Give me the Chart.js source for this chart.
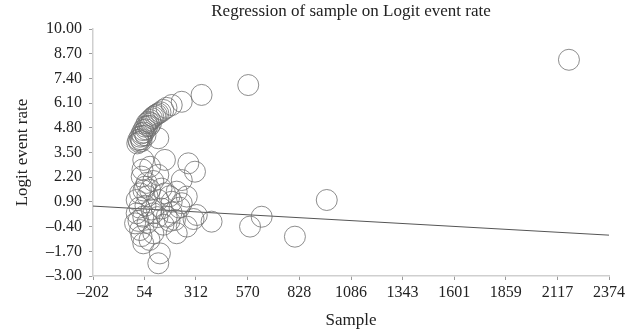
<!DOCTYPE html>
<html>
<head>
<meta charset="utf-8">
<script src="https://cdn.jsdelivr.net/npm/chart.js@4"></script>
<style>
  html, body { margin: 0; padding: 0; background: #fff; }
  #wrap { width: 638px; height: 334px; }
</style>
</head>
<body>
<div id="wrap"><canvas id="myChart" width="638" height="334"></canvas></div>
<script>
// sample size vs logit event rate (one circle per study)
var sampleX = [
  19, 24, 28, 33, 36, 41, 44, 49, 52, 58, 62, 66, 70, 75, 83, 88, 92, 99, 108, 116,
  124, 135, 149, 165, 191, 241, 340, 573, 2174, 124, 60, 80, 40,
  274, 307, 157, 49, 83, 41, 124, 241, 58, 83, 33, 157, 216, 266, 16, 124, 191,
  241, 66, 45, 99, 70, 50, 140, 180,
  16, 49, 99, 166, 207, 316, 390, 582, 640, 806, 965, 33, 99, 216, 49, 132, 124,
  8, 266, 30, 60, 90, 140, 190, 230, 25, 70, 150, 180, 40, 80, 300, 120
];
var logitY = [
  3.98, 4.16, 4.05, 4.33, 4.20, 4.51, 4.38, 4.68, 4.55, 4.86, 4.72, 5.04, 4.90, 5.12, 5.21, 5.05, 5.30, 5.38, 5.45, 5.50,
  5.56, 5.62, 5.74, 5.85, 6.00, 6.17, 6.53, 7.05, 8.38, 4.25, 4.40, 4.90, 4.10,
  2.93, 2.49, 3.11, 3.11, 2.75, 2.23, 2.32, 2.05, 1.70, 1.53, 1.35, 1.35, 1.44, 1.18, 1.00, 1.00, 0.91,
  0.83, 1.90, 2.60, 2.00, 1.20, 1.50, 1.60, 1.20,
  0.30, 0.12, 0.30, 0.12, -0.05, 0.21, -0.14, -0.40, 0.12, -0.93, 1.00, -0.58, -0.75, -0.75, -1.28, -1.81, -2.33,
  -0.23, -0.40, 0.60, 0.70, 0.50, 0.55, 0.35, 0.60, -0.10, -0.20, -0.30, -0.10, -0.90, -1.10, 0.00, 0.10
];
// fitted regression line end points
var lineX = [-202, 2374];
var lineY = [0.68, -0.85];

var xTicks = [-202, 54, 312, 570, 828, 1086, 1343, 1601, 1859, 2117, 2374];
var yTicks = [-3.00, -1.70, -0.40, 0.90, 2.20, 3.50, 4.80, 6.10, 7.40, 8.70, 10.00];

var pts = sampleX.map(function (x, i) { return { x: x, y: logitY[i] }; });
var fit = lineX.map(function (x, i) { return { x: x, y: lineY[i] }; });

function minus(s) { return s.replace('-', '\u2013'); }

// center the title over the plot area instead of the whole canvas
var titleOverPlot = {
  id: 'titleOverPlot',
  beforeDraw: function (chart) {
    var t = chart.titleBlock, a = chart.chartArea;
    if (t && a) {
      t.left = a.left;
      t.right = a.right;
      t.width = a.right - a.left;
    }
  }
};

var serif = "'Liberation Serif', 'DejaVu Serif', serif";
var ctx = document.getElementById('myChart').getContext('2d');

var chart = new Chart(ctx, {
  type: 'scatter',
  data: {
    datasets: [{
      label: 'Studies',
      data: pts,
      pointStyle: 'circle',
      pointRadius: 10.5,
      pointBorderWidth: 0.8,
      pointBorderColor: '#707070',
      pointBackgroundColor: 'rgba(0,0,0,0)',
      showLine: false
    }, {
      label: 'Fit',
      type: 'line',
      data: fit,
      borderColor: '#555',
      borderWidth: 1,
      pointRadius: 0,
      fill: false
    }]
  },
  plugins: [titleOverPlot],
  options: {
    responsive: false,
    animation: false,
    layout: { padding: { left: 0, right: 29, top: 0, bottom: 0 } },
    plugins: {
      legend: { display: false },
      tooltip: { enabled: false },
      title: {
        display: true,
        text: 'Regression of sample on Logit event rate',
        color: '#222',
        font: { family: serif, size: 17, weight: 'normal', lineHeight: 1.2 },
        padding: { top: 1, bottom: 7.6 }
      }
    },
    scales: {
      x: {
        type: 'linear',
        min: -202,
        max: 2374,
        afterBuildTicks: function (s) { s.ticks = xTicks.map(function (v) { return { value: v }; }); },
        afterFit: function (s) { s.height = 58; },
        grid: { drawOnChartArea: false, drawTicks: true, tickLength: 4, color: '#9a9a9a' },
        border: { color: '#cfcfcf', width: 1.5 },
        ticks: {
          color: '#222',
          padding: 3,
          maxRotation: 0,
          autoSkip: false,
          font: { family: serif, size: 16 },
          callback: function (v) { return minus(String(Math.round(v))); }
        },
        title: {
          display: true,
          text: 'Sample',
          color: '#222',
          font: { family: serif, size: 17 },
          padding: { top: 0, bottom: 3 }
        }
      },
      y: {
        type: 'linear',
        min: -3,
        max: 10,
        afterBuildTicks: function (s) { s.ticks = yTicks.map(function (v) { return { value: v }; }); },
        afterFit: function (s) { s.width = 93; },
        grid: { drawOnChartArea: false, drawTicks: true, tickLength: 4, color: '#9a9a9a' },
        border: { color: '#cfcfcf', width: 1.5 },
        ticks: {
          color: '#222',
          padding: 7,
          autoSkip: false,
          font: { family: serif, size: 16 },
          callback: function (v) { return minus(v.toFixed(2)); }
        },
        title: {
          display: true,
          text: 'Logit event rate',
          color: '#222',
          font: { family: serif, size: 17 },
          padding: { top: 12.5, bottom: 0 }
        }
      }
    }
  }
});
</script>
</body>
</html>
